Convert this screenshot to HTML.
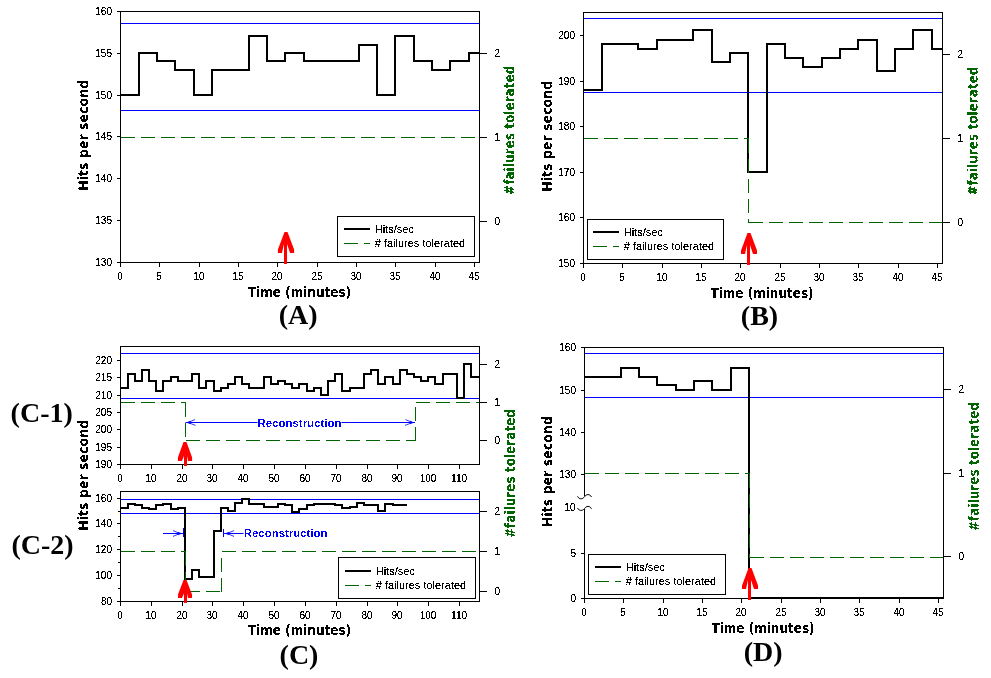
<!DOCTYPE html>
<html lang="en"><head><meta charset="utf-8"><title>Hits per second / failures tolerated</title>
<style>
html,body{margin:0;padding:0;background:#fff;}
body{width:991px;height:678px;overflow:hidden;}
svg{display:block;}
.tk{font-family:"Liberation Sans",Arial,sans-serif;font-size:10px;fill:#000;}
.lg{font-family:"Liberation Sans",Arial,sans-serif;font-size:11px;fill:#000;}
.ax{font-family:"DejaVu Sans Condensed","DejaVu Sans",Verdana,sans-serif;font-weight:bold;font-size:13.5px;}
.pn{font-family:"Liberation Serif","Times New Roman",serif;font-weight:bold;font-size:28px;fill:#000;}
.rc{font-family:"Liberation Sans",Arial,sans-serif;font-weight:bold;font-size:11px;fill:#0000ff;}
</style></head><body>
<svg width="991" height="678" viewBox="0 0 991 678" shape-rendering="crispEdges">
<rect x="0" y="0" width="991" height="678" fill="#fff"/>
<defs>
<filter id="px" x="-5%" y="-5%" width="110%" height="110%" color-interpolation-filters="sRGB">
<feComponentTransfer><feFuncA type="discrete" tableValues="0 0 1 1 1"/></feComponentTransfer>
</filter>
<filter id="pb" x="-5%" y="-5%" width="110%" height="110%" color-interpolation-filters="sRGB">
<feComponentTransfer><feFuncA type="discrete" tableValues="0 1"/></feComponentTransfer>
</filter>
</defs>
<g id="plotA">
<line x1="120.5" y1="23.5" x2="479.5" y2="23.5" stroke="#0000ff" stroke-width="1" />
<line x1="120.5" y1="110.5" x2="479.5" y2="110.5" stroke="#0000ff" stroke-width="1" />
<line x1="120.5" y1="137.5" x2="479.5" y2="137.5" stroke="#006400" stroke-width="1" stroke-dasharray="14 6"/>
<path d="M120.5 95 H139 V53 H157 V61 H175 V70 H194 V95 H212 V70 H230 V70 H249 V36 H267 V61 H285 V53 H304 V61 H322 V61 H340 V61 H359 V45 H377 V95 H395 V36 H414 V61 H432 V70 H450 V61 H469 V53 H479.5" fill="none" stroke="#000" stroke-width="2" stroke-linejoin="miter" stroke-linecap="butt"/>
<rect x="120.5" y="11.5" width="359.0" height="251.0" fill="none" stroke="#000" stroke-width="1"/>
<line x1="120.5" y1="262.5" x2="120.5" y2="267.0" stroke="#000" stroke-width="1" />
<text x="120.1" y="280.0" class="tk" text-anchor="middle" filter="url(#px)" >0</text>
<line x1="159.5" y1="262.5" x2="159.5" y2="267.0" stroke="#000" stroke-width="1" />
<text x="159.1" y="280.0" class="tk" text-anchor="middle" filter="url(#px)" >5</text>
<line x1="199.5" y1="262.5" x2="199.5" y2="267.0" stroke="#000" stroke-width="1" />
<text x="199.1" y="280.0" class="tk" text-anchor="middle" filter="url(#px)" >10</text>
<line x1="238.5" y1="262.5" x2="238.5" y2="267.0" stroke="#000" stroke-width="1" />
<text x="238.1" y="280.0" class="tk" text-anchor="middle" filter="url(#px)" >15</text>
<line x1="277.5" y1="262.5" x2="277.5" y2="267.0" stroke="#000" stroke-width="1" />
<text x="277.1" y="280.0" class="tk" text-anchor="middle" filter="url(#px)" >20</text>
<line x1="317.5" y1="262.5" x2="317.5" y2="267.0" stroke="#000" stroke-width="1" />
<text x="317.1" y="280.0" class="tk" text-anchor="middle" filter="url(#px)" >25</text>
<line x1="356.5" y1="262.5" x2="356.5" y2="267.0" stroke="#000" stroke-width="1" />
<text x="356.1" y="280.0" class="tk" text-anchor="middle" filter="url(#px)" >30</text>
<line x1="395.5" y1="262.5" x2="395.5" y2="267.0" stroke="#000" stroke-width="1" />
<text x="395.1" y="280.0" class="tk" text-anchor="middle" filter="url(#px)" >35</text>
<line x1="435.5" y1="262.5" x2="435.5" y2="267.0" stroke="#000" stroke-width="1" />
<text x="435.1" y="280.0" class="tk" text-anchor="middle" filter="url(#px)" >40</text>
<line x1="474.5" y1="262.5" x2="474.5" y2="267.0" stroke="#000" stroke-width="1" />
<text x="474.1" y="280.0" class="tk" text-anchor="middle" filter="url(#px)" >45</text>
<line x1="117.0" y1="262.5" x2="120.5" y2="262.5" stroke="#000" stroke-width="1" />
<text x="112.0" y="266.0" class="tk" text-anchor="end" filter="url(#px)" >130</text>
<line x1="117.0" y1="220.5" x2="120.5" y2="220.5" stroke="#000" stroke-width="1" />
<text x="112.0" y="224.0" class="tk" text-anchor="end" filter="url(#px)" >135</text>
<line x1="117.0" y1="178.5" x2="120.5" y2="178.5" stroke="#000" stroke-width="1" />
<text x="112.0" y="182.0" class="tk" text-anchor="end" filter="url(#px)" >140</text>
<line x1="117.0" y1="136.5" x2="120.5" y2="136.5" stroke="#000" stroke-width="1" />
<text x="112.0" y="140.0" class="tk" text-anchor="end" filter="url(#px)" >145</text>
<line x1="117.0" y1="95.5" x2="120.5" y2="95.5" stroke="#000" stroke-width="1" />
<text x="112.0" y="99.0" class="tk" text-anchor="end" filter="url(#px)" >150</text>
<line x1="117.0" y1="53.5" x2="120.5" y2="53.5" stroke="#000" stroke-width="1" />
<text x="112.0" y="57.0" class="tk" text-anchor="end" filter="url(#px)" >155</text>
<line x1="117.0" y1="11.5" x2="120.5" y2="11.5" stroke="#000" stroke-width="1" />
<text x="112.0" y="15.0" class="tk" text-anchor="end" filter="url(#px)" >160</text>
<line x1="479.5" y1="53.5" x2="487.0" y2="53.5" stroke="#000" stroke-width="1" />
<text x="494.5" y="57.0" class="tk" text-anchor="start" filter="url(#px)" >2</text>
<line x1="479.5" y1="137.5" x2="487.0" y2="137.5" stroke="#000" stroke-width="1" />
<text x="494.5" y="141.0" class="tk" text-anchor="start" filter="url(#px)" >1</text>
<line x1="479.5" y1="221.5" x2="487.0" y2="221.5" stroke="#000" stroke-width="1" />
<text x="494.5" y="225.0" class="tk" text-anchor="start" filter="url(#px)" >0</text>
<rect x="337.5" y="216.5" width="137.0" height="40.0" fill="#fff" stroke="#000" stroke-width="1"/>
<line x1="343.5" y1="229.0" x2="370.0" y2="229.0" stroke="#000" stroke-width="2" />
<line x1="343.5" y1="243.5" x2="370.0" y2="243.5" stroke="#006400" stroke-width="1" stroke-dasharray="14 6"/>
<text x="374.7" y="232.5" class="lg" text-anchor="start" filter="url(#px)" >Hits/sec</text>
<text x="374.7" y="246.9" class="lg" text-anchor="start" filter="url(#px)" ># failures tolerated</text>
<polygon points="284.5,232 287.5,232 294.1,249.5 294.1,253 290.1,253 287,244 287,264 284,264 284,244 281.9,253 277.9,253 277.9,249.5" fill="#ff0000" shape-rendering="auto"/>
<text transform="translate(88.3 190.7) rotate(-90)" class="ax" fill="#000" filter="url(#pb)" textLength="111" lengthAdjust="spacingAndGlyphs">Hits per second</text>
<text transform="translate(514.4 195) rotate(-90)" class="ax" fill="#006400" filter="url(#pb)" textLength="129.5" lengthAdjust="spacingAndGlyphs">#failures tolerated</text>
<text x="299.5" y="296.8" class="ax" text-anchor="middle" filter="url(#pb)" textLength="103.2" lengthAdjust="spacingAndGlyphs">Time (minutes)</text>
<text x="298.2" y="324" class="pn" text-anchor="middle" >(A)</text>
</g>
<g id="plotB">
<line x1="583.5" y1="18.5" x2="942.5" y2="18.5" stroke="#0000ff" stroke-width="1" />
<line x1="583.5" y1="92.5" x2="942.5" y2="92.5" stroke="#0000ff" stroke-width="1" />
<path d="M583.5 90 H602 V44 H620 V44 H638 V49 H657 V40 H675 V40 H693 V30 H712 V62 H730 V53 H748 V172 H767 V44 H785 V58 H803 V67 H822 V58 H840 V49 H858 V40 H877 V71 H895 V49 H913 V30 H932 V49 H942.5" fill="none" stroke="#000" stroke-width="2" stroke-linejoin="miter" stroke-linecap="butt"/>
<line x1="583.5" y1="138.5" x2="748.5" y2="138.5" stroke="#006400" stroke-width="1" stroke-dasharray="14 6"/>
<line x1="748.5" y1="138.5" x2="748.5" y2="222.5" stroke="#006400" stroke-width="1" stroke-dasharray="14 6"/>
<line x1="748.5" y1="222.5" x2="942.5" y2="222.5" stroke="#006400" stroke-width="1" stroke-dasharray="14 6"/>
<rect x="583.5" y="12.5" width="359.0" height="251.0" fill="none" stroke="#000" stroke-width="1"/>
<line x1="583.5" y1="263.5" x2="583.5" y2="268.0" stroke="#000" stroke-width="1" />
<text x="583.1" y="281.0" class="tk" text-anchor="middle" filter="url(#px)" >0</text>
<line x1="622.5" y1="263.5" x2="622.5" y2="268.0" stroke="#000" stroke-width="1" />
<text x="622.1" y="281.0" class="tk" text-anchor="middle" filter="url(#px)" >5</text>
<line x1="662.5" y1="263.5" x2="662.5" y2="268.0" stroke="#000" stroke-width="1" />
<text x="662.1" y="281.0" class="tk" text-anchor="middle" filter="url(#px)" >10</text>
<line x1="701.5" y1="263.5" x2="701.5" y2="268.0" stroke="#000" stroke-width="1" />
<text x="701.1" y="281.0" class="tk" text-anchor="middle" filter="url(#px)" >15</text>
<line x1="740.5" y1="263.5" x2="740.5" y2="268.0" stroke="#000" stroke-width="1" />
<text x="740.1" y="281.0" class="tk" text-anchor="middle" filter="url(#px)" >20</text>
<line x1="780.5" y1="263.5" x2="780.5" y2="268.0" stroke="#000" stroke-width="1" />
<text x="780.1" y="281.0" class="tk" text-anchor="middle" filter="url(#px)" >25</text>
<line x1="819.5" y1="263.5" x2="819.5" y2="268.0" stroke="#000" stroke-width="1" />
<text x="819.1" y="281.0" class="tk" text-anchor="middle" filter="url(#px)" >30</text>
<line x1="858.5" y1="263.5" x2="858.5" y2="268.0" stroke="#000" stroke-width="1" />
<text x="858.1" y="281.0" class="tk" text-anchor="middle" filter="url(#px)" >35</text>
<line x1="898.5" y1="263.5" x2="898.5" y2="268.0" stroke="#000" stroke-width="1" />
<text x="898.1" y="281.0" class="tk" text-anchor="middle" filter="url(#px)" >40</text>
<line x1="937.5" y1="263.5" x2="937.5" y2="268.0" stroke="#000" stroke-width="1" />
<text x="937.1" y="281.0" class="tk" text-anchor="middle" filter="url(#px)" >45</text>
<line x1="580.0" y1="263.5" x2="583.5" y2="263.5" stroke="#000" stroke-width="1" />
<text x="575.0" y="267.0" class="tk" text-anchor="end" filter="url(#px)" >150</text>
<line x1="580.0" y1="217.5" x2="583.5" y2="217.5" stroke="#000" stroke-width="1" />
<text x="575.0" y="221.0" class="tk" text-anchor="end" filter="url(#px)" >160</text>
<line x1="580.0" y1="172.5" x2="583.5" y2="172.5" stroke="#000" stroke-width="1" />
<text x="575.0" y="176.0" class="tk" text-anchor="end" filter="url(#px)" >170</text>
<line x1="580.0" y1="126.5" x2="583.5" y2="126.5" stroke="#000" stroke-width="1" />
<text x="575.0" y="130.0" class="tk" text-anchor="end" filter="url(#px)" >180</text>
<line x1="580.0" y1="81.5" x2="583.5" y2="81.5" stroke="#000" stroke-width="1" />
<text x="575.0" y="85.0" class="tk" text-anchor="end" filter="url(#px)" >190</text>
<line x1="580.0" y1="35.5" x2="583.5" y2="35.5" stroke="#000" stroke-width="1" />
<text x="575.0" y="39.0" class="tk" text-anchor="end" filter="url(#px)" >200</text>
<line x1="942.5" y1="54.5" x2="950.0" y2="54.5" stroke="#000" stroke-width="1" />
<text x="957.5" y="58.0" class="tk" text-anchor="start" filter="url(#px)" >2</text>
<line x1="942.5" y1="138.5" x2="950.0" y2="138.5" stroke="#000" stroke-width="1" />
<text x="957.5" y="142.0" class="tk" text-anchor="start" filter="url(#px)" >1</text>
<line x1="942.5" y1="222.5" x2="950.0" y2="222.5" stroke="#000" stroke-width="1" />
<text x="957.5" y="226.0" class="tk" text-anchor="start" filter="url(#px)" >0</text>
<rect x="587.5" y="219.5" width="136.0" height="40.0" fill="#fff" stroke="#000" stroke-width="1"/>
<line x1="592.5" y1="232.0" x2="619.0" y2="232.0" stroke="#000" stroke-width="2" />
<line x1="592.5" y1="246.5" x2="619.0" y2="246.5" stroke="#006400" stroke-width="1" stroke-dasharray="14 6"/>
<text x="623.7" y="235.5" class="lg" text-anchor="start" filter="url(#px)" >Hits/sec</text>
<text x="623.7" y="249.9" class="lg" text-anchor="start" filter="url(#px)" ># failures tolerated</text>
<polygon points="747.5,233 750.5,233 757,250.5 757,254 753,254 750,245 750,265 747,265 747,245 745,254 741,254 741,250.5" fill="#ff0000" shape-rendering="auto"/>
<text transform="translate(551.8 191.7) rotate(-90)" class="ax" fill="#000" filter="url(#pb)" textLength="111" lengthAdjust="spacingAndGlyphs">Hits per second</text>
<text transform="translate(977.6 195.5) rotate(-90)" class="ax" fill="#006400" filter="url(#pb)" textLength="129" lengthAdjust="spacingAndGlyphs">#failures tolerated</text>
<text x="762" y="297.8" class="ax" text-anchor="middle" filter="url(#pb)" textLength="103.2" lengthAdjust="spacingAndGlyphs">Time (minutes)</text>
<text x="759.5" y="325" class="pn" text-anchor="middle" >(B)</text>
</g>
<g id="plotC">
<line x1="120.5" y1="353.5" x2="479.5" y2="353.5" stroke="#0000ff" stroke-width="1" />
<line x1="120.5" y1="398.5" x2="479.5" y2="398.5" stroke="#0000ff" stroke-width="1" />
<path d="M120.5 388 H128 V374 H135 V381 H142 V370 H149 V381 H156 V391 H163 V381 H171 V377 H178 V381 H185 V381 H192 V374 H199 V388 H206 V381 H214 V391 H221 V388 H228 V384 H235 V377 H242 V384 H249 V388 H256 V388 H264 V377 H271 V384 H278 V381 H285 V384 H292 V388 H299 V384 H307 V391 H314 V388 H321 V395 H328 V381 H335 V374 H342 V391 H350 V388 H357 V388 H364 V374 H371 V370 H378 V384 H385 V377 H393 V384 H400 V370 H407 V374 H414 V377 H421 V381 H428 V377 H435 V384 H443 V374 H450 V374 H457 V398 H464 V364 H471 V377 H479.5" fill="none" stroke="#000" stroke-width="2" stroke-linejoin="miter" stroke-linecap="butt"/>
<line x1="120.5" y1="402.5" x2="185.5" y2="402.5" stroke="#006400" stroke-width="1" stroke-dasharray="14 6"/>
<line x1="185.5" y1="402.5" x2="185.5" y2="440.5" stroke="#006400" stroke-width="1" stroke-dasharray="14 6"/>
<line x1="185.5" y1="440.5" x2="415.5" y2="440.5" stroke="#006400" stroke-width="1" stroke-dasharray="14 6"/>
<line x1="415.5" y1="440.5" x2="415.5" y2="402.5" stroke="#006400" stroke-width="1" stroke-dasharray="14 6"/>
<line x1="415.5" y1="402.5" x2="479.5" y2="402.5" stroke="#006400" stroke-width="1" stroke-dasharray="14 6"/>
<rect x="120.5" y="346.5" width="359.0" height="118.0" fill="none" stroke="#000" stroke-width="1"/>
<line x1="120.5" y1="464.5" x2="120.5" y2="469.0" stroke="#000" stroke-width="1" />
<text x="120.1" y="481.5" class="tk" text-anchor="middle" filter="url(#px)" >0</text>
<line x1="151.5" y1="464.5" x2="151.5" y2="469.0" stroke="#000" stroke-width="1" />
<text x="151.1" y="481.5" class="tk" text-anchor="middle" filter="url(#px)" >10</text>
<line x1="182.5" y1="464.5" x2="182.5" y2="469.0" stroke="#000" stroke-width="1" />
<text x="182.1" y="481.5" class="tk" text-anchor="middle" filter="url(#px)" >20</text>
<line x1="212.5" y1="464.5" x2="212.5" y2="469.0" stroke="#000" stroke-width="1" />
<text x="212.1" y="481.5" class="tk" text-anchor="middle" filter="url(#px)" >30</text>
<line x1="243.5" y1="464.5" x2="243.5" y2="469.0" stroke="#000" stroke-width="1" />
<text x="243.1" y="481.5" class="tk" text-anchor="middle" filter="url(#px)" >40</text>
<line x1="274.5" y1="464.5" x2="274.5" y2="469.0" stroke="#000" stroke-width="1" />
<text x="274.1" y="481.5" class="tk" text-anchor="middle" filter="url(#px)" >50</text>
<line x1="305.5" y1="464.5" x2="305.5" y2="469.0" stroke="#000" stroke-width="1" />
<text x="305.1" y="481.5" class="tk" text-anchor="middle" filter="url(#px)" >60</text>
<line x1="336.5" y1="464.5" x2="336.5" y2="469.0" stroke="#000" stroke-width="1" />
<text x="336.1" y="481.5" class="tk" text-anchor="middle" filter="url(#px)" >70</text>
<line x1="367.5" y1="464.5" x2="367.5" y2="469.0" stroke="#000" stroke-width="1" />
<text x="367.1" y="481.5" class="tk" text-anchor="middle" filter="url(#px)" >80</text>
<line x1="397.5" y1="464.5" x2="397.5" y2="469.0" stroke="#000" stroke-width="1" />
<text x="397.1" y="481.5" class="tk" text-anchor="middle" filter="url(#px)" >90</text>
<line x1="428.5" y1="464.5" x2="428.5" y2="469.0" stroke="#000" stroke-width="1" />
<text x="428.1" y="481.5" class="tk" text-anchor="middle" filter="url(#px)" >100</text>
<line x1="459.5" y1="464.5" x2="459.5" y2="469.0" stroke="#000" stroke-width="1" />
<text x="459.1" y="481.5" class="tk" text-anchor="middle" filter="url(#px)" >110</text>
<line x1="117.0" y1="464.5" x2="120.5" y2="464.5" stroke="#000" stroke-width="1" />
<text x="112.0" y="468.0" class="tk" text-anchor="end" filter="url(#px)" >190</text>
<line x1="117.0" y1="447.5" x2="120.5" y2="447.5" stroke="#000" stroke-width="1" />
<text x="112.0" y="451.0" class="tk" text-anchor="end" filter="url(#px)" >195</text>
<line x1="117.0" y1="429.5" x2="120.5" y2="429.5" stroke="#000" stroke-width="1" />
<text x="112.0" y="433.0" class="tk" text-anchor="end" filter="url(#px)" >200</text>
<line x1="117.0" y1="412.5" x2="120.5" y2="412.5" stroke="#000" stroke-width="1" />
<text x="112.0" y="416.0" class="tk" text-anchor="end" filter="url(#px)" >205</text>
<line x1="117.0" y1="395.5" x2="120.5" y2="395.5" stroke="#000" stroke-width="1" />
<text x="112.0" y="399.0" class="tk" text-anchor="end" filter="url(#px)" >210</text>
<line x1="117.0" y1="377.5" x2="120.5" y2="377.5" stroke="#000" stroke-width="1" />
<text x="112.0" y="381.0" class="tk" text-anchor="end" filter="url(#px)" >215</text>
<line x1="117.0" y1="360.5" x2="120.5" y2="360.5" stroke="#000" stroke-width="1" />
<text x="112.0" y="364.0" class="tk" text-anchor="end" filter="url(#px)" >220</text>
<line x1="479.5" y1="364.5" x2="487.0" y2="364.5" stroke="#000" stroke-width="1" />
<text x="494.5" y="368.0" class="tk" text-anchor="start" filter="url(#px)" >2</text>
<line x1="479.5" y1="402.5" x2="487.0" y2="402.5" stroke="#000" stroke-width="1" />
<text x="494.5" y="406.0" class="tk" text-anchor="start" filter="url(#px)" >1</text>
<line x1="479.5" y1="440.5" x2="487.0" y2="440.5" stroke="#000" stroke-width="1" />
<text x="494.5" y="444.0" class="tk" text-anchor="start" filter="url(#px)" >0</text>
<g shape-rendering="auto" stroke="#0000ff" fill="none" stroke-width="1">
<path d="M185.5 422.5 H257.5 M341.5 422.5 H415"/>
<path d="M195 419.6 L188 422.5 L195.5 425.4" stroke-width="0.8"/>
<path d="M187 422.5 L190.4 421.2 V423.8 Z" fill="#0000ff" stroke-width="0.5"/>
<path d="M405.5 419.6 L412.5 422.5 L405 425.4" stroke-width="0.8"/>
<path d="M413.5 422.5 L410.1 421.2 V423.8 Z" fill="#0000ff" stroke-width="0.5"/>
</g>
<text x="257.6" y="426.7" class="rc" text-anchor="start" filter="url(#pb)" textLength="83.8" lengthAdjust="spacingAndGlyphs">Reconstruction</text>
<polygon points="183.5,442 186.5,442 192.1,457.5 192.1,461 188.1,461 187,456 187,466 184,466 184,456 181.9,461 177.9,461 177.9,457.5" fill="#ff0000" shape-rendering="auto"/>
<line x1="120.5" y1="499.5" x2="479.5" y2="499.5" stroke="#0000ff" stroke-width="1" />
<line x1="120.5" y1="513.5" x2="479.5" y2="513.5" stroke="#0000ff" stroke-width="1" />
<path d="M120.5 508 H128 V504 H135 V505 H142 V508 H149 V509 H156 V505 H163 V504 H171 V509 H178 V508 H185 V579 H192 V570 H199 V577 H206 V577 H214 V531 H221 V508 H228 V511 H235 V503 H242 V499 H249 V504 H256 V504 H264 V507 H271 V507 H278 V504 H285 V505 H292 V512 H299 V509 H307 V505 H314 V504 H321 V504 H328 V504 H335 V505 H342 V508 H350 V507 H357 V503 H364 V505 H371 V505 H378 V511 H385 V504 H393 V505 H400 V505 H407" fill="none" stroke="#000" stroke-width="2" stroke-linejoin="miter" stroke-linecap="butt"/>
<line x1="120.5" y1="551.5" x2="185.5" y2="551.5" stroke="#006400" stroke-width="1" stroke-dasharray="14 6"/>
<line x1="185.5" y1="551.5" x2="185.5" y2="591.5" stroke="#006400" stroke-width="1" stroke-dasharray="14 6"/>
<line x1="185.5" y1="591.5" x2="221.5" y2="591.5" stroke="#006400" stroke-width="1" stroke-dasharray="14 6"/>
<line x1="221.5" y1="591.5" x2="221.5" y2="551.5" stroke="#006400" stroke-width="1" stroke-dasharray="14 6"/>
<line x1="221.5" y1="551.5" x2="479.5" y2="551.5" stroke="#006400" stroke-width="1" stroke-dasharray="14 6"/>
<rect x="120.5" y="491.5" width="359.0" height="110.0" fill="none" stroke="#000" stroke-width="1"/>
<line x1="120.5" y1="601.5" x2="120.5" y2="606.0" stroke="#000" stroke-width="1" />
<text x="120.1" y="618.5" class="tk" text-anchor="middle" filter="url(#px)" >0</text>
<line x1="151.5" y1="601.5" x2="151.5" y2="606.0" stroke="#000" stroke-width="1" />
<text x="151.1" y="618.5" class="tk" text-anchor="middle" filter="url(#px)" >10</text>
<line x1="182.5" y1="601.5" x2="182.5" y2="606.0" stroke="#000" stroke-width="1" />
<text x="182.1" y="618.5" class="tk" text-anchor="middle" filter="url(#px)" >20</text>
<line x1="212.5" y1="601.5" x2="212.5" y2="606.0" stroke="#000" stroke-width="1" />
<text x="212.1" y="618.5" class="tk" text-anchor="middle" filter="url(#px)" >30</text>
<line x1="243.5" y1="601.5" x2="243.5" y2="606.0" stroke="#000" stroke-width="1" />
<text x="243.1" y="618.5" class="tk" text-anchor="middle" filter="url(#px)" >40</text>
<line x1="274.5" y1="601.5" x2="274.5" y2="606.0" stroke="#000" stroke-width="1" />
<text x="274.1" y="618.5" class="tk" text-anchor="middle" filter="url(#px)" >50</text>
<line x1="305.5" y1="601.5" x2="305.5" y2="606.0" stroke="#000" stroke-width="1" />
<text x="305.1" y="618.5" class="tk" text-anchor="middle" filter="url(#px)" >60</text>
<line x1="336.5" y1="601.5" x2="336.5" y2="606.0" stroke="#000" stroke-width="1" />
<text x="336.1" y="618.5" class="tk" text-anchor="middle" filter="url(#px)" >70</text>
<line x1="367.5" y1="601.5" x2="367.5" y2="606.0" stroke="#000" stroke-width="1" />
<text x="367.1" y="618.5" class="tk" text-anchor="middle" filter="url(#px)" >80</text>
<line x1="397.5" y1="601.5" x2="397.5" y2="606.0" stroke="#000" stroke-width="1" />
<text x="397.1" y="618.5" class="tk" text-anchor="middle" filter="url(#px)" >90</text>
<line x1="428.5" y1="601.5" x2="428.5" y2="606.0" stroke="#000" stroke-width="1" />
<text x="428.1" y="618.5" class="tk" text-anchor="middle" filter="url(#px)" >100</text>
<line x1="459.5" y1="601.5" x2="459.5" y2="606.0" stroke="#000" stroke-width="1" />
<text x="459.1" y="618.5" class="tk" text-anchor="middle" filter="url(#px)" >110</text>
<line x1="117.0" y1="601.5" x2="120.5" y2="601.5" stroke="#000" stroke-width="1" />
<text x="112.0" y="605.0" class="tk" text-anchor="end" filter="url(#px)" >80</text>
<line x1="117.0" y1="575.5" x2="120.5" y2="575.5" stroke="#000" stroke-width="1" />
<text x="112.0" y="579.0" class="tk" text-anchor="end" filter="url(#px)" >100</text>
<line x1="117.0" y1="549.5" x2="120.5" y2="549.5" stroke="#000" stroke-width="1" />
<text x="112.0" y="553.0" class="tk" text-anchor="end" filter="url(#px)" >120</text>
<line x1="117.0" y1="523.5" x2="120.5" y2="523.5" stroke="#000" stroke-width="1" />
<text x="112.0" y="527.0" class="tk" text-anchor="end" filter="url(#px)" >140</text>
<line x1="117.0" y1="498.5" x2="120.5" y2="498.5" stroke="#000" stroke-width="1" />
<text x="112.0" y="502.0" class="tk" text-anchor="end" filter="url(#px)" >160</text>
<line x1="118.0" y1="588.5" x2="120.5" y2="588.5" stroke="#000" stroke-width="1" />
<line x1="118.0" y1="562.5" x2="120.5" y2="562.5" stroke="#000" stroke-width="1" />
<line x1="118.0" y1="536.5" x2="120.5" y2="536.5" stroke="#000" stroke-width="1" />
<line x1="118.0" y1="511.5" x2="120.5" y2="511.5" stroke="#000" stroke-width="1" />
<line x1="479.5" y1="511.5" x2="487.0" y2="511.5" stroke="#000" stroke-width="1" />
<text x="494.5" y="515.0" class="tk" text-anchor="start" filter="url(#px)" >2</text>
<line x1="479.5" y1="551.5" x2="487.0" y2="551.5" stroke="#000" stroke-width="1" />
<text x="494.5" y="555.0" class="tk" text-anchor="start" filter="url(#px)" >1</text>
<line x1="479.5" y1="591.5" x2="487.0" y2="591.5" stroke="#000" stroke-width="1" />
<text x="494.5" y="595.0" class="tk" text-anchor="start" filter="url(#px)" >0</text>
<g shape-rendering="auto" stroke="#0000ff" fill="none" stroke-width="1">
<path d="M163 533.5 H183.5 M183.5 528 V537 M223.5 529 V537 M223.5 533.5 H243.5"/>
<path d="M173 530.6 L180 533.5 L173 536.4" stroke-width="0.8"/>
<path d="M181.5 533.5 L178 532.2 V534.8 Z" fill="#0000ff" stroke-width="0.5"/>
<path d="M234 530.6 L227 533.5 L234 536.4" stroke-width="0.8"/>
<path d="M225.5 533.5 L229 532.2 V534.8 Z" fill="#0000ff" stroke-width="0.5"/>
</g>
<text x="243.8" y="536.7" class="rc" text-anchor="start" filter="url(#pb)" textLength="83.6" lengthAdjust="spacingAndGlyphs">Reconstruction</text>
<rect x="338.5" y="557.5" width="137.0" height="41.0" fill="#fff" stroke="#000" stroke-width="1"/>
<line x1="344.5" y1="571.0" x2="371.0" y2="571.0" stroke="#000" stroke-width="2" />
<line x1="344.5" y1="585.5" x2="371.0" y2="585.5" stroke="#006400" stroke-width="1" stroke-dasharray="14 6"/>
<text x="375.7" y="574.5" class="lg" text-anchor="start" filter="url(#px)" >Hits/sec</text>
<text x="375.7" y="588.9" class="lg" text-anchor="start" filter="url(#px)" ># failures tolerated</text>
<polygon points="183.5,580 186.5,580 192,594.5 192,598 188,598 187,593.5 187,603 184,603 184,593.5 182,598 178,598 178,594.5" fill="#ff0000" shape-rendering="auto"/>
<text transform="translate(88.3 530.7) rotate(-90)" class="ax" fill="#000" filter="url(#pb)" textLength="111" lengthAdjust="spacingAndGlyphs">Hits per second</text>
<text transform="translate(514.9 538) rotate(-90)" class="ax" fill="#006400" filter="url(#pb)" textLength="129" lengthAdjust="spacingAndGlyphs">#failures tolerated</text>
<text x="299.5" y="635.3" class="ax" text-anchor="middle" filter="url(#pb)" textLength="103.2" lengthAdjust="spacingAndGlyphs">Time (minutes)</text>
<text x="299" y="663.6" class="pn" text-anchor="middle" >(C)</text>
<text x="10.6" y="422.3" class="pn" text-anchor="start" >(C-1)</text>
<text x="11.5" y="554.2" class="pn" text-anchor="start" >(C-2)</text>
</g>
<g id="plotD">
<line x1="584.5" y1="353.5" x2="943.5" y2="353.5" stroke="#0000ff" stroke-width="1" />
<line x1="584.5" y1="397.5" x2="943.5" y2="397.5" stroke="#0000ff" stroke-width="1" />
<path d="M584.5 377 H602 V377 H621 V368 H639 V377 H657 V385 H676 V390 H694 V381 H712 V390 H731 V368 H749 V598 H943.5" fill="none" stroke="#000" stroke-width="2" stroke-linejoin="miter"/>
<line x1="584.5" y1="473.5" x2="749.5" y2="473.5" stroke="#006400" stroke-width="1" stroke-dasharray="14 6"/>
<line x1="749.5" y1="473.5" x2="749.5" y2="557.5" stroke="#006400" stroke-width="1" stroke-dasharray="14 6"/>
<line x1="749.5" y1="557.5" x2="943.5" y2="557.5" stroke="#006400" stroke-width="1" stroke-dasharray="14 6"/>
<path d="M584.5 496 V347.5 H943.5 V598.5 H584.5 V509" fill="none" stroke="#000" stroke-width="1"/>
<g shape-rendering="auto" fill="none" stroke="#000" stroke-width="1">
<path d="M577.5 496.3 C579 499.6 582.6 499.4 584.5 496.8 C586.2 494 589.8 493.6 591.5 497"/>
<path d="M577.5 508 C579 511.2 582.6 511 584.5 508.6 C586.2 505.8 589.8 505.4 591.5 508.8"/>
</g>
<line x1="584.5" y1="598.5" x2="584.5" y2="603.0" stroke="#000" stroke-width="1" />
<text x="584.1" y="615.5" class="tk" text-anchor="middle" filter="url(#px)" >0</text>
<line x1="623.5" y1="598.5" x2="623.5" y2="603.0" stroke="#000" stroke-width="1" />
<text x="623.1" y="615.5" class="tk" text-anchor="middle" filter="url(#px)" >5</text>
<line x1="663.5" y1="598.5" x2="663.5" y2="603.0" stroke="#000" stroke-width="1" />
<text x="663.1" y="615.5" class="tk" text-anchor="middle" filter="url(#px)" >10</text>
<line x1="702.5" y1="598.5" x2="702.5" y2="603.0" stroke="#000" stroke-width="1" />
<text x="702.1" y="615.5" class="tk" text-anchor="middle" filter="url(#px)" >15</text>
<line x1="741.5" y1="598.5" x2="741.5" y2="603.0" stroke="#000" stroke-width="1" />
<text x="741.1" y="615.5" class="tk" text-anchor="middle" filter="url(#px)" >20</text>
<line x1="781.5" y1="598.5" x2="781.5" y2="603.0" stroke="#000" stroke-width="1" />
<text x="781.1" y="615.5" class="tk" text-anchor="middle" filter="url(#px)" >25</text>
<line x1="820.5" y1="598.5" x2="820.5" y2="603.0" stroke="#000" stroke-width="1" />
<text x="820.1" y="615.5" class="tk" text-anchor="middle" filter="url(#px)" >30</text>
<line x1="859.5" y1="598.5" x2="859.5" y2="603.0" stroke="#000" stroke-width="1" />
<text x="859.1" y="615.5" class="tk" text-anchor="middle" filter="url(#px)" >35</text>
<line x1="899.5" y1="598.5" x2="899.5" y2="603.0" stroke="#000" stroke-width="1" />
<text x="899.1" y="615.5" class="tk" text-anchor="middle" filter="url(#px)" >40</text>
<line x1="938.5" y1="598.5" x2="938.5" y2="603.0" stroke="#000" stroke-width="1" />
<text x="938.1" y="615.5" class="tk" text-anchor="middle" filter="url(#px)" >45</text>
<line x1="581.0" y1="474.5" x2="584.5" y2="474.5" stroke="#000" stroke-width="1" />
<text x="576.0" y="478.0" class="tk" text-anchor="end" filter="url(#px)" >130</text>
<line x1="581.0" y1="432.5" x2="584.5" y2="432.5" stroke="#000" stroke-width="1" />
<text x="576.0" y="436.0" class="tk" text-anchor="end" filter="url(#px)" >140</text>
<line x1="581.0" y1="390.5" x2="584.5" y2="390.5" stroke="#000" stroke-width="1" />
<text x="576.0" y="394.0" class="tk" text-anchor="end" filter="url(#px)" >150</text>
<line x1="581.0" y1="347.5" x2="584.5" y2="347.5" stroke="#000" stroke-width="1" />
<text x="576.0" y="351.0" class="tk" text-anchor="end" filter="url(#px)" >160</text>
<line x1="581.0" y1="598.5" x2="584.5" y2="598.5" stroke="#000" stroke-width="1" />
<text x="576.0" y="602.0" class="tk" text-anchor="end" filter="url(#px)" >0</text>
<line x1="581.0" y1="553.5" x2="584.5" y2="553.5" stroke="#000" stroke-width="1" />
<text x="576.0" y="557.0" class="tk" text-anchor="end" filter="url(#px)" >5</text>
<text x="575.7" y="511.0" class="tk" text-anchor="end" filter="url(#px)" >10</text>
<line x1="943.5" y1="389.5" x2="951.0" y2="389.5" stroke="#000" stroke-width="1" />
<text x="958.5" y="393.0" class="tk" text-anchor="start" filter="url(#px)" >2</text>
<line x1="943.5" y1="473.5" x2="951.0" y2="473.5" stroke="#000" stroke-width="1" />
<text x="958.5" y="477.0" class="tk" text-anchor="start" filter="url(#px)" >1</text>
<line x1="943.5" y1="556.5" x2="951.0" y2="556.5" stroke="#000" stroke-width="1" />
<text x="958.5" y="560.0" class="tk" text-anchor="start" filter="url(#px)" >0</text>
<rect x="588.5" y="554.5" width="137.0" height="40.0" fill="#fff" stroke="#000" stroke-width="1"/>
<line x1="594.5" y1="567.0" x2="621.0" y2="567.0" stroke="#000" stroke-width="2" />
<line x1="594.5" y1="581.5" x2="621.0" y2="581.5" stroke="#006400" stroke-width="1" stroke-dasharray="14 6"/>
<text x="625.7" y="570.5" class="lg" text-anchor="start" filter="url(#px)" >Hits/sec</text>
<text x="625.7" y="584.9" class="lg" text-anchor="start" filter="url(#px)" ># failures tolerated</text>
<polygon points="748.5,568 751.5,568 758,585.5 758,589 754,589 751,580 751,600 748,600 748,580 746,589 742,589 742,585.5" fill="#ff0000" shape-rendering="auto"/>
<text transform="translate(552.3 527.2) rotate(-90)" class="ax" fill="#000" filter="url(#pb)" textLength="111" lengthAdjust="spacingAndGlyphs">Hits per second</text>
<text transform="translate(978.6 531) rotate(-90)" class="ax" fill="#006400" filter="url(#pb)" textLength="129" lengthAdjust="spacingAndGlyphs">#failures tolerated</text>
<text x="763" y="633.2" class="ax" text-anchor="middle" filter="url(#pb)" textLength="103.2" lengthAdjust="spacingAndGlyphs">Time (minutes)</text>
<text x="763.2" y="660.8" class="pn" text-anchor="middle" >(D)</text>
</g>
</svg>
</body></html>
